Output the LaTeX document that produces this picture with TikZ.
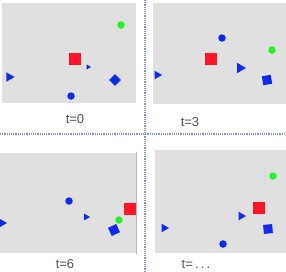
\documentclass[tikz,border=0pt]{standalone}
\usepackage{fontspec}
\setmainfont{Liberation Sans}
\usetikzlibrary{shapes.geometric}
\definecolor{panelgray}{HTML}{E0E0E0}
\definecolor{shapeblue}{HTML}{1028F0}
\definecolor{shapered}{HTML}{FF1428}
\definecolor{shapegreen}{HTML}{28F028}
\definecolor{sepblue}{HTML}{7F93C8}
\definecolor{labelgray}{HTML}{505050}
\definecolor{edgegray}{HTML}{C4B4B0}
\begin{document}
\begin{tikzpicture}[x=1pt,y=-1pt,
  panel/.style={fill=panelgray,draw=none},
  ball/.style={circle,fill=shapeblue,inner sep=0pt,minimum size=7.5pt},
  gball/.style={circle,fill=shapegreen,inner sep=0pt,minimum size=7.5pt},
  rsq/.style={rectangle,fill=shapered,inner sep=0pt,minimum size=12pt},
  bsq/.style={rectangle,fill=shapeblue,inner sep=0pt,minimum size=9pt},
  tri/.style={regular polygon,regular polygon sides=3,shape border rotate=-90,fill=shapeblue,inner sep=0pt,minimum size=#1},
  tri/.default=11pt,
  lbl/.style={text=labelgray,font=\fontsize{13}{13}\selectfont,inner sep=0pt},
  sep/.style={draw=sepblue,line width=1.1pt,dash pattern=on 1.1pt off 1.1pt}]
\useasboundingbox (0,0) rectangle (286,271);
% panels
\fill[panel] (2,3) rectangle (136,103);
\fill[panel] (153,3) rectangle (286,104);
\fill[panel] (0,153) rectangle (136,253);
\draw[draw=edgegray,line width=1pt] (136,152) -- (136,254);
\fill[panel] (155,150) rectangle (286,253);
% separators
\coordinate (hl) at (0,134);
\coordinate (hr) at (286,134);
\coordinate (vt) at (145,0);
\coordinate (vb) at (145,271);
\draw[sep] (hl) -- (hr);
\draw[sep] (vt) -- (vb);
% t=0
\node[gball] (g0) at (121,25) {};
\node[rsq] (r0) at (75,59) {};
\node[tri=6pt] (s0) at (88,67) {};
\node[tri] (l0) at (9,77) {};
\node[diamond,fill=shapeblue,inner sep=0pt,minimum size=12pt] (d0) at (115,80) {};
\node[ball] (b0) at (71,96) {};
\node[lbl] (t0) at (75,119) {t=0};
% t=3
\node[ball] (b3) at (222,38) {};
\node[gball] (g3) at (272,50) {};
\node[rsq] (r3) at (211,59) {};
\node[tri=12pt] (s3) at (240,68) {};
\node[tri=10pt] (l3) at (157,75) {};
\node[bsq,rotate=10] (q3) at (267,80) {};
\node[lbl] (t3) at (190,122) {t=3};
% t=6
\node[ball] (b6) at (69,201) {};
\node[rsq] (r6) at (130,209) {};
\node[tri=8pt] (s6) at (86,217) {};
\node[gball] (g6) at (119,220) {};
\node[tri=10pt] (l6) at (2,223) {};
\node[bsq,rotate=25] (q6) at (114,230) {};
\node[lbl] (t6) at (65,264) {t=6};
% t=...
\node[gball] (g9) at (273,176) {};
\node[rsq] (r9) at (259,208) {};
\node[tri=10pt] (s9) at (241,216) {};
\node[tri=10pt] (l9) at (164,228) {};
\node[bsq,rotate=5] (q9) at (268,229) {};
\node[ball] (b9) at (223,244) {};
\node[lbl] (t9) at (196,264) {t=\,.\,.\,.};
\end{tikzpicture}
\end{document}
